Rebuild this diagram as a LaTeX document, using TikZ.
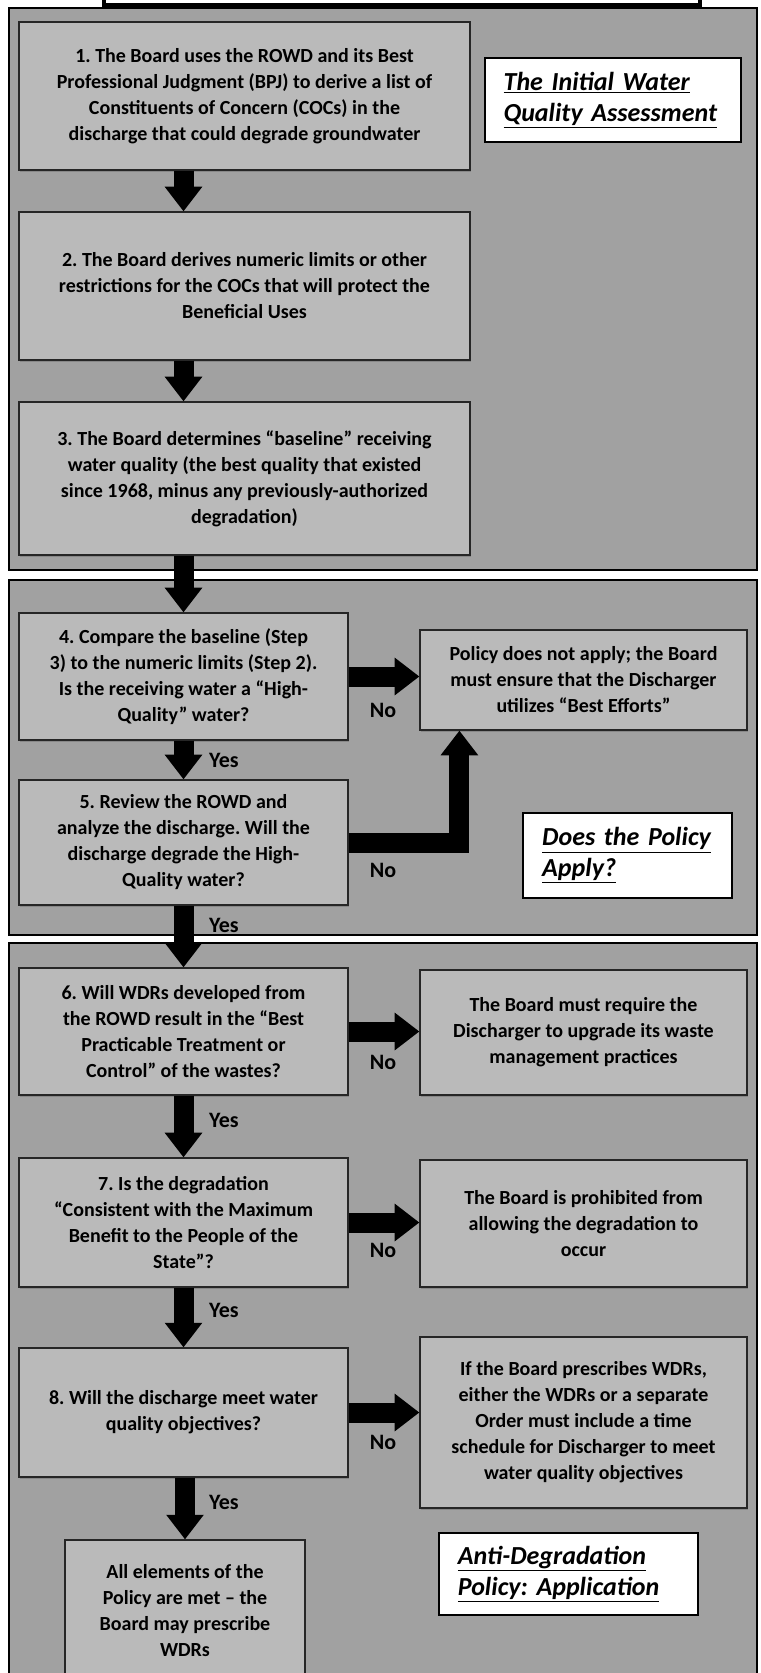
\documentclass[tikz,border=0pt]{standalone}
\usepackage{fontspec}
\setmainfont{Carlito}
\frenchspacing
\usetikzlibrary{arrows.meta,shadows}

\begin{document}
\begin{tikzpicture}[x=0.75pt,y=0.75pt,yscale=-1,xscale=1,
  stepbox/.style={draw=black!85,line width=0.9pt,fill=black!27,inner sep=0pt,align=center,
    font=\bfseries\fontsize{15}{19.5}\selectfont,
    drop shadow={shadow xshift=0.6pt,shadow yshift=-1.8pt,opacity=0.75}},
  titlebox/.style={draw=black,line width=1.4pt,fill=white,inner sep=0pt,align=left,
    font=\bfseries\itshape\fontsize{19.5}{23}\selectfont},
  section/.style={draw=black,line width=1.5pt,fill=black!37},
  bigarrow/.style={line width=15pt,line join=miter,-{Triangle[width=27pt,length=18.5pt]}},
  yesno/.style={font=\bfseries\fontsize{16.5}{18}\selectfont}]
\useasboundingbox (0,0) rectangle (760,1673);
\clip (0,0) rectangle (760,1673);

%Shape: Rectangle [title, cut off]
\draw [line width=2.4pt,fill=white] (104,-30) rectangle (700,5) ;
%Shape: Rectangle [sections]
\draw [section] (9,8) rectangle (757,570) ;
\draw [section] (9,580) rectangle (757,935) ;
\draw [section] (9,943) rectangle (757,1700) ;

% Text Node
\draw (244.5,96) node [stepbox,minimum width=338.25pt,minimum height=111pt] (b1) {1. The Board uses the ROWD and its Best\\Professional Judgment (BPJ) to derive a list of\\Constituents of Concern (COCs) in the\\discharge that could degrade groundwater};
% Text Node
\draw (244.5,286) node [stepbox,minimum width=338.25pt,minimum height=111pt] (b2) {2. The Board derives numeric limits or other\\restrictions for the COCs that will protect the\\Beneficial Uses};
% Text Node
\draw (244.5,478.5) node [stepbox,minimum width=338.25pt,minimum height=114.75pt] (b3) {3. The Board determines “baseline” receiving\\water quality (the best quality that existed\\since 1968, minus any previously-authorized\\degradation)};
% Text Node
\draw (183.5,676.5) node [stepbox,minimum width=246.75pt,minimum height=95.25pt] (b4) {4. Compare the baseline (Step\\3) to the numeric limits (Step 2).\\Is the receiving water a “High-\\Quality” water?};
% Text Node
\draw (583.5,680) node [stepbox,minimum width=245.25pt,minimum height=75pt] (pol) {Policy does not apply; the Board\\must ensure that the Discharger\\utilizes “Best Efforts”};
% Text Node
\draw (183.5,842.5) node [stepbox,minimum width=246.75pt,minimum height=93.75pt] (b5) {5. Review the ROWD and\\analyze the discharge. Will the\\discharge degrade the High-\\Quality water?};
% Text Node
\draw (183.5,1031.5) node [stepbox,minimum width=246.75pt,minimum height=95.25pt] (b6) {6. Will WDRs developed from\\the ROWD result in the “Best\\Practicable Treatment or\\Control” of the wastes?};
% Text Node
\draw (583.5,1032.5) node [stepbox,minimum width=245.25pt,minimum height=93.75pt] (r6) {The Board must require the\\Discharger to upgrade its waste\\management practices};
% Text Node
\draw (183.5,1222.5) node [stepbox,minimum width=246.75pt,minimum height=96.75pt] (b7) {7. Is the degradation\\“Consistent with the Maximum\\Benefit to the People of the\\State”?};
% Text Node
\draw (583.5,1223.5) node [stepbox,minimum width=245.25pt,minimum height=95.25pt] (r7) {The Board is prohibited from\\allowing the degradation to\\occur};
% Text Node
\draw (183.5,1412.5) node [stepbox,minimum width=246.75pt,minimum height=96.75pt] (b8) {8. Will the discharge meet water\\quality objectives?};
% Text Node
\draw (583.5,1422.5) node [stepbox,minimum width=245.25pt,minimum height=128.25pt] (r8) {If the Board prescribes WDRs,\\either the WDRs or a separate\\Order must include a time\\schedule for Discharger to meet\\water quality objectives};
% Text Node
\draw (185,1611) node [stepbox,minimum width=180pt,minimum height=106.5pt] (b9) {All elements of the\\Policy are met – the\\Board may prescribe\\WDRs};

% Text Node
\draw (613,100) node [titlebox,minimum width=192pt,minimum height=63pt,text width=164pt] (ttl1) {\underline{The Initial Water}\\\underline{Quality Assessment}};
% Text Node
\draw (627.5,855.5) node [titlebox,minimum width=156.75pt,minimum height=63.75pt,text width=128pt] (ttl2) {\underline{Does the Policy}\\\underline{Apply?}};
% Text Node
\draw (568.5,1574) node [titlebox,minimum width=194.25pt,minimum height=61.5pt,text width=166pt] (ttl3) {\underline{Anti-Degradation}\\\underline{Policy: Application}};

%Straight Lines [down]
\draw [bigarrow] (b1.south -| b4.south) -- (b2.north -| b4.south) ;
\draw [bigarrow] (b2.south -| b4.south) -- (b3.north -| b4.south) ;
\draw [bigarrow] (b3.south -| b4.south) -- (b4.north) ;
\draw [bigarrow] (b4.south) -- (b5.north) ;
\draw [bigarrow] (b5.south) -- (b6.north) ;
\draw [bigarrow] (b6.south) -- (b7.north) ;
\draw [bigarrow] (b7.south) -- (b8.north) ;
\draw [bigarrow] (b8.south -| b9.north) -- (b9.north) ;
%Straight Lines [across]
\draw [bigarrow] (b4.east) -- (b4.east -| pol.west) ;
\draw [bigarrow] (b5.east) -| ([xshift=30pt]pol.south west) ;
\draw [bigarrow] (b6.east) -- (b6.east -| r6.west) ;
\draw [bigarrow] (b7.east) -- (b7.east -| r7.west) ;
\draw [bigarrow] (b8.east) -- (b8.east -| r8.west) ;

% Text Node
\draw (224,760) node [yesno] (y4) {Yes};
% Text Node
\draw (224,925) node [yesno] (y5) {Yes};
% Text Node
\draw (224,1120) node [yesno] (y6) {Yes};
% Text Node
\draw (224,1310) node [yesno] (y7) {Yes};
% Text Node
\draw (224,1502) node [yesno] (y8) {Yes};
% Text Node
\draw (383,710) node [yesno] (n4) {No};
% Text Node
\draw (383,870) node [yesno] (n5) {No};
% Text Node
\draw (383,1062) node [yesno] (n6) {No};
% Text Node
\draw (383,1250) node [yesno] (n7) {No};
% Text Node
\draw (383,1442) node [yesno] (n8) {No};

\end{tikzpicture}
\end{document}
